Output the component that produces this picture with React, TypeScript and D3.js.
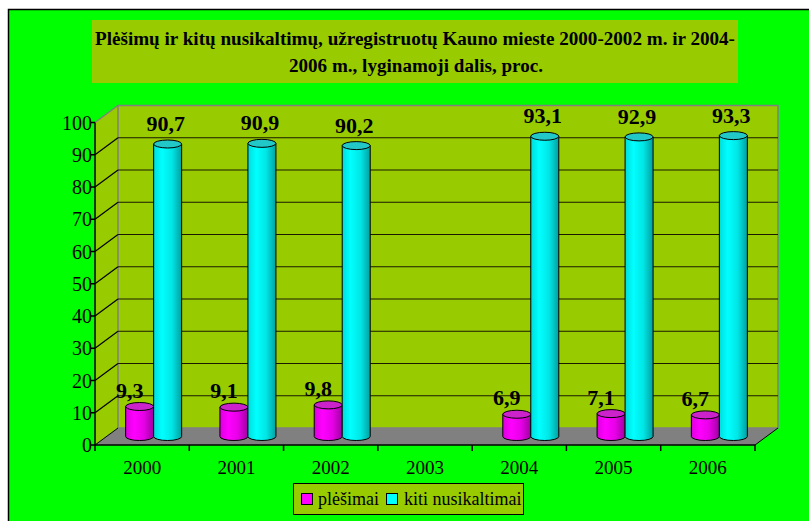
import React from "react";
import * as d3 from "d3";

const years = ["2000", "2001", "2002", "2003", "2004", "2005", "2006"];
const plesimai: (number | null)[] = [9.3, 9.1, 9.8, null, 6.9, 7.1, 6.7];
const kiti: (number | null)[] = [90.7, 90.9, 90.2, null, 93.1, 92.9, 93.3];
const yTicks = [0, 10, 20, 30, 40, 50, 60, 70, 80, 90, 100];
const seriesNames = ["plėšimai", "kiti nusikaltimai"];
const titleLines = [
  "Plėšimų ir kitų nusikaltimų, užregistruotų Kauno mieste 2000-2002 m. ir 2004-",
  "2006 m., lyginamoji dalis, proc.",
];

const W = 809;
const H = 521;
const DX = 23;
const DY = -17;
const OLIVE = "#99CC00";
const GREEN = "#00FF00";
const FONT = "'Liberation Serif', 'Times New Roman', serif";

const fmt = (v: number) => v.toFixed(1).replace(".", ",");

function Cylinder({ x, w, top, base, grad, topFill }: { x: number; w: number; top: number; base: number; grad: string; topFill: string }) {
  const rx = w / 2;
  const ry = 4;
  const body = `M${x},${top} L${x},${base} A${rx},${ry} 0 0 0 ${x + w},${base} L${x + w},${top} Z`;
  return (
    <g>
      <path d={body} fill={`url(#${grad})`} stroke="#000" strokeWidth={1} />
      <ellipse cx={x + rx} cy={top} rx={rx} ry={ry} fill={topFill} stroke="#000" strokeWidth={1} />
    </g>
  );
}

export default function App() {
  const xScale = d3.scaleBand<string>().domain(years).range([95, 755]).padding(0);
  const yScale = d3.scaleLinear().domain([0, 100]).range([445, 122.5]);
  const bw = xScale.bandwidth();
  const barW = 28;
  const midDX = DX / 2;
  const midDY = DY / 2;
  const x0 = 95, x1 = 755;
  const yb = yScale(0), yt = yScale(100);

  return (
    <svg width={W} height={H} style={{ position: "absolute", left: 0, top: 0 }} fontFamily={FONT}>
      <defs>
        <linearGradient id="gCyan" x1="0" x2="1" y1="0" y2="0">
          <stop offset="0%" stopColor="#00DCDC" />
          <stop offset="30%" stopColor="#00FFFF" />
          <stop offset="65%" stopColor="#00E6E6" />
          <stop offset="100%" stopColor="#00A0A0" />
        </linearGradient>
        <linearGradient id="gMag" x1="0" x2="1" y1="0" y2="0">
          <stop offset="0%" stopColor="#DC00DC" />
          <stop offset="30%" stopColor="#FF00FF" />
          <stop offset="65%" stopColor="#E600E6" />
          <stop offset="100%" stopColor="#A000A0" />
        </linearGradient>
      </defs>
      <rect x={0} y={0} width={W} height={H} fill="#fff" />
      <rect x={8.5} y={9.5} width={W} height={H} fill={GREEN} stroke="#000" strokeWidth={1.5} />

      {/* title */}
      <rect x={92} y={20} width={646} height={63} fill={OLIVE} />
      <text x={415} y={45} textAnchor="middle" fontWeight="bold" fontSize={18} textLength={640} lengthAdjust="spacingAndGlyphs">{titleLines[0]}</text>
      <text x={416} y={72} textAnchor="middle" fontWeight="bold" fontSize={18} textLength={254} lengthAdjust="spacingAndGlyphs">{titleLines[1]}</text>

      {/* walls */}
      <polygon points={`${x0},${yb} ${x0},${yt} ${x0 + DX},${yt + DY} ${x0 + DX},${yb + DY}`} fill={OLIVE} />
      <rect x={x0 + DX} y={yt + DY} width={x1 - x0} height={yb - yt} fill={OLIVE} stroke="#808080" strokeWidth={1.5} />
      <polygon points={`${x0},${yb} ${x1},${yb} ${x1 + DX},${yb + DY} ${x0 + DX},${yb + DY}`} fill="#808080" />
      <line x1={x0} y1={yt} x2={x0 + DX} y2={yt + DY} stroke="#808080" strokeWidth={1.5} />
      {yTicks.filter(t => t > 0 && t < 100).map(t => (
        <g key={t}>
          <line x1={x0 + DX} y1={yScale(t) + DY} x2={x1 + DX} y2={yScale(t) + DY} stroke="#1a1a00" strokeWidth={1.2} />
          <line x1={x0} y1={yScale(t)} x2={x0 + DX} y2={yScale(t) + DY} stroke="#000" strokeWidth={1.2} />
        </g>
      ))}
      <line x1={x0} y1={yb} x2={x0 + DX} y2={yb + DY} stroke="#000" strokeWidth={1} />
      <line x1={x1} y1={yb} x2={x1 + DX} y2={yb + DY} stroke="#000" strokeWidth={1} />

      {/* axes */}
      <line x1={x0} y1={yt} x2={x0} y2={yb} stroke="#000" strokeWidth={1.5} />
      <line x1={x0} y1={yb} x2={x1} y2={yb} stroke="#000" strokeWidth={1.5} />
      {yTicks.map(t => (
        <g key={t}>
          <line x1={x0 - 5} y1={yScale(t)} x2={x0} y2={yScale(t)} stroke="#000" strokeWidth={1.5} />
          <text x={x0 - 3} y={yScale(t) + 7} textAnchor="end" fontSize={20}>{t}</text>
        </g>
      ))}
      {years.map((yr, i) => (
        <g key={yr}>
          <line x1={(xScale(yr) as number) + bw} y1={yb} x2={(xScale(yr) as number) + bw} y2={yb + 6} stroke="#000" strokeWidth={1.5} />
          {i === 0 && <line x1={x0} y1={yb} x2={x0} y2={yb + 6} stroke="#000" strokeWidth={1.5} />}
          <text x={(xScale(yr) as number) + bw / 2} y={yb + 29} textAnchor="middle" fontSize={19}>{yr}</text>
        </g>
      ))}

      {/* bars */}
      {years.map((yr, i) => {
        const c = (xScale(yr) as number) + bw / 2 + midDX;
        const base = yb + midDY;
        const p = plesimai[i];
        const k = kiti[i];
        return (
          <g key={yr}>
            {p != null && (
              <Cylinder x={c - barW} w={barW} top={yScale(p) + midDY} base={base} grad="gMag" topFill="#CC22CC" />
            )}
            {k != null && (
              <Cylinder x={c} w={barW} top={yScale(k) + midDY} base={base} grad="gCyan" topFill="#22C8C8" />
            )}
            {p != null && (
              <text x={c - barW / 2 - 10} y={yScale(p) + midDY - 9} textAnchor="middle" fontWeight="bold" fontSize={22}>{fmt(p)}</text>
            )}
            {k != null && (
              <text x={c + barW / 2 - 2} y={yScale(k) + midDY - 13} textAnchor="middle" fontWeight="bold" fontSize={22}>{fmt(k)}</text>
            )}
          </g>
        );
      })}

      {/* legend */}
      <rect x={293.5} y={483.5} width={230} height={31} fill={OLIVE} stroke="#000" strokeWidth={1} />
      <rect x={301.5} y={493.5} width={11} height={11} fill="#FF00FF" stroke="#000" strokeWidth={1} />
      <text x={318} y={505} fontSize={18}>{seriesNames[0]}</text>
      <rect x={386.5} y={493.5} width={11} height={11} fill="#00FFFF" stroke="#000" strokeWidth={1} />
      <text x={404} y={505} fontSize={18}>{seriesNames[1]}</text>
    </svg>
  );
}
